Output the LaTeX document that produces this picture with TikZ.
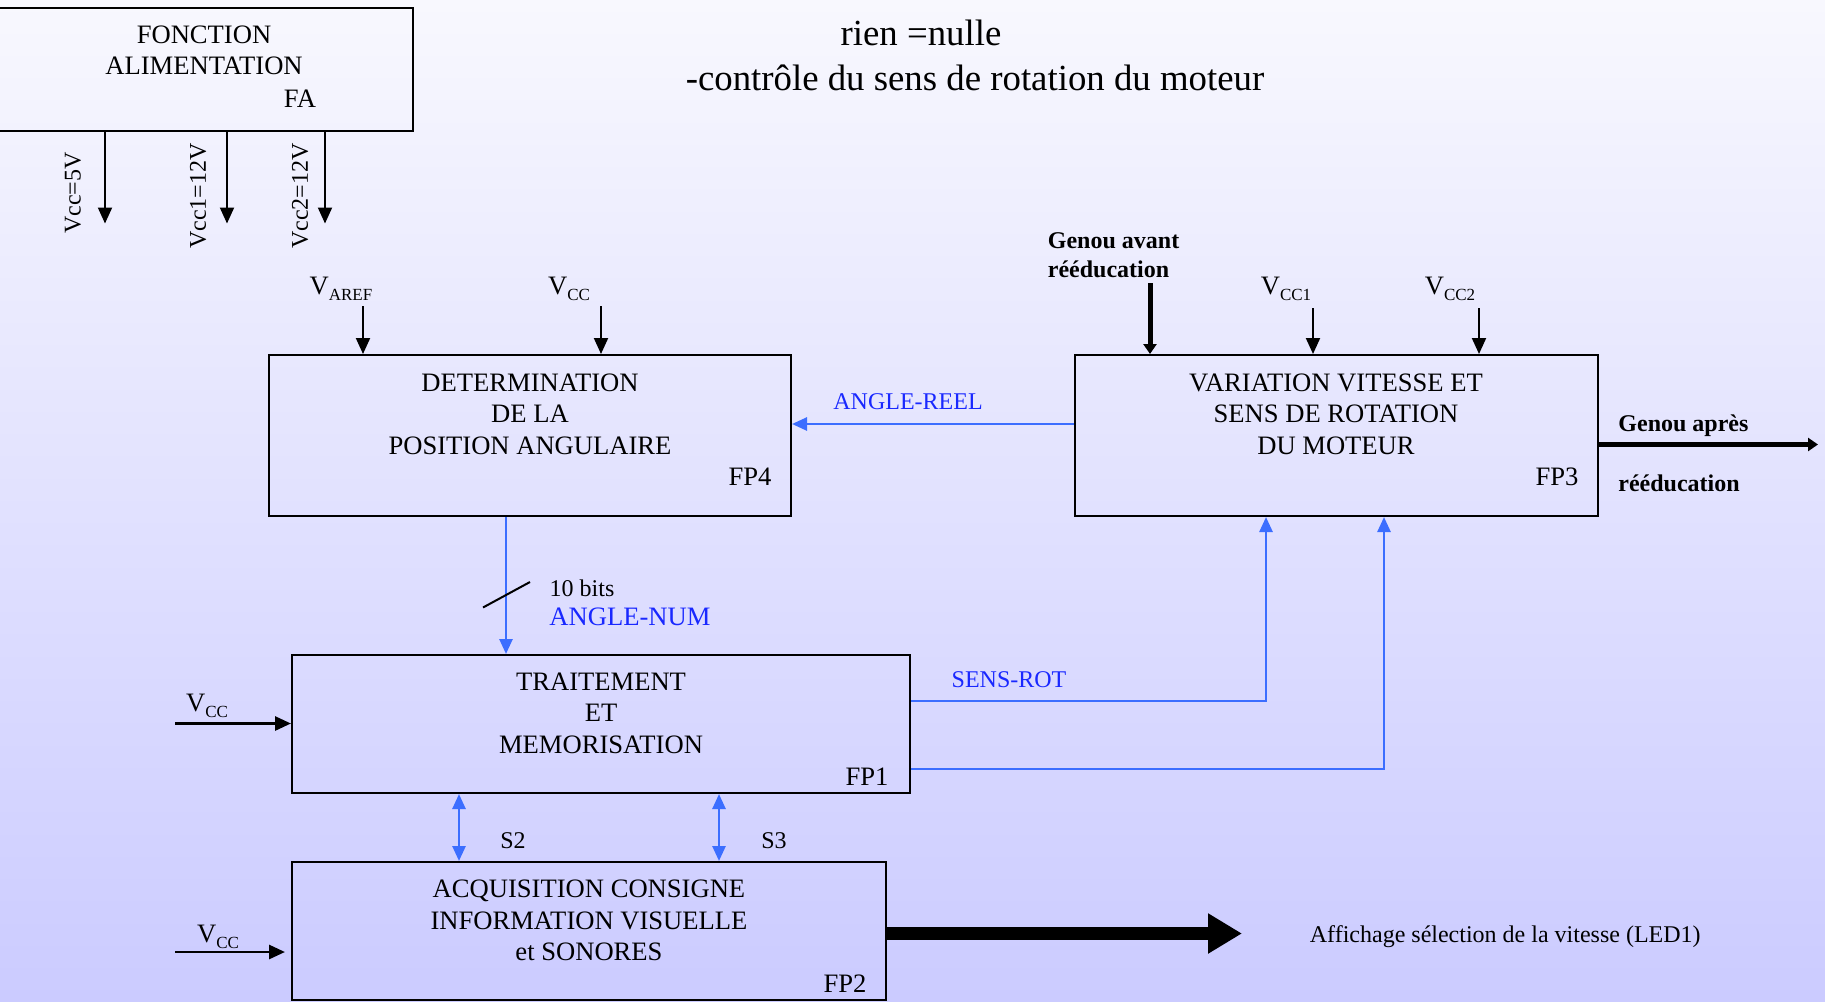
\documentclass[tikz,border=0pt]{standalone}
\usepackage{fontspec}
\setmainfont{Liberation Serif}
\usetikzlibrary{arrows.meta,positioning}
\definecolor{fondhaut}{RGB}{248,248,254}
\definecolor{fondbas}{RGB}{203,203,255}
\definecolor{lienbleu}{RGB}{60,110,255}
\definecolor{textebleu}{RGB}{25,40,255}
\newcommand{\Vind}[1]{V\raisebox{-0.45ex}{\fontsize{8.5}{8.5}\selectfont #1}}
\tikzset{
  bloc/.style={draw, line width=1pt, inner sep=0pt},
  txt/.style={align=center, font=\fontsize{13.3}{15.7}\selectfont, inner sep=0pt},
  petit/.style={font=\fontsize{12}{14.5}\selectfont, inner sep=0pt},
  gras/.style={font=\fontsize{12}{14.5}\selectfont\bfseries, inner sep=0pt, align=left},
  haut/.style={font=\fontsize{18.4}{22.7}\selectfont, inner sep=0pt},
  fleche/.style={-{Triangle[length=8pt,width=7pt]}, line width=1pt},
  lien/.style={-{Triangle[length=7.5pt,width=6.5pt]}, line width=1.3pt, lienbleu},
  lien2/.style={{Triangle[length=7.5pt,width=6.5pt]}-{Triangle[length=7.5pt,width=6.5pt]}, line width=1.3pt, lienbleu},
  epais/.style={-{Triangle[length=5pt,width=6.5pt]}, line width=2.5pt},
  enorme/.style={-{Triangle[length=17pt,width=19pt]}, line width=6.5pt},
  bleu/.style={text=textebleu}
}
\begin{document}
\begin{tikzpicture}[x=0.5pt, y=-0.5pt]
  \useasboundingbox (0,0) rectangle (1825,1001);
  \clip (0,0) rectangle (1825,1001);
  \shade[top color=fondhaut, bottom color=fondbas] (0,0) rectangle (1825,1001);

  \node[haut] (l1) at (921,33) {rien =nulle};
  \node[haut] (l2) at (975,78) {-contrôle du sens de rotation du moteur};

  \node[bloc, minimum width=208.5pt, minimum height=61.5pt] (fa) at (204.5,69.5) {};
  \node[txt] (tfa) at (204,50.5) {FONCTION\\ALIMENTATION};
  \node[txt] (nfa) at (300,99) {FA};
  \coordinate (v5) at (105,223.5);
  \coordinate (v12a) at (227,223.5);
  \coordinate (v12b) at (325,223.5);
  \draw[fleche] (fa.south -| v5) -- (v5);
  \draw[fleche] (fa.south -| v12a) -- (v12a);
  \draw[fleche] (fa.south -| v12b) -- (v12b);
  \node[petit, rotate=90] (lv5) at (73,193) {Vcc=5V};
  \node[petit, rotate=90] (lv12a) at (198,196) {Vcc1=12V};
  \node[petit, rotate=90] (lv12b) at (300,196) {Vcc2=12V};

  \node[bloc, minimum width=261pt, minimum height=80.5pt] (fp4) at (530,435.5) {};
  \node[txt] (t4) at (530,414) {DETERMINATION\\DE LA\\POSITION ANGULAIRE};
  \node[txt] (n4) at (750,477) {FP4};

  \node[bloc, minimum width=261.5pt, minimum height=80.5pt] (fp3) at (1336.5,435.5) {};
  \node[txt] (t3) at (1336,414) {VARIATION VITESSE ET\\SENS DE ROTATION\\DU MOTEUR};
  \node[txt] (n3) at (1557,477) {FP3};

  \node[bloc, minimum width=309pt, minimum height=69pt] (fp1) at (601,724) {};
  \node[txt] (t1) at (601,713) {TRAITEMENT\\ET\\MEMORISATION};
  \node[txt] (n1) at (867,777) {FP1};

  \node[bloc, minimum width=297pt, minimum height=69pt] (fp2) at (589,931) {};
  \node[txt] (t2) at (589,920.5) {ACQUISITION CONSIGNE\\INFORMATION VISUELLE\\et SONORES};
  \node[txt] (n2) at (845,984) {FP2};

  \node[txt] (lvaref) at (341,289) {\Vind{AREF}};
  \node[txt] (lvcc4) at (569,289) {\Vind{CC}};
  \coordinate (avaref) at (363,306);
  \coordinate (avcc4) at (601,306);
  \draw[fleche] (avaref) -- (avaref |- fp4.north);
  \draw[fleche] (avcc4) -- (avcc4 |- fp4.north);

  \node[gras, anchor=west] (genav) at (1047.5,255.5) {Genou avant\\rééducation};
  \node[txt] (lvcc1) at (1286,289) {\Vind{CC1}};
  \node[txt] (lvcc2) at (1450,289) {\Vind{CC2}};
  \coordinate (agenou) at (1150,283);
  \coordinate (avcc1) at (1313,308);
  \coordinate (avcc2) at (1479,308);
  \draw[epais] (agenou) -- (agenou |- fp3.north);
  \draw[fleche] (avcc1) -- (avcc1 |- fp3.north);
  \draw[fleche] (avcc2) -- (avcc2 |- fp3.north);

  \node[gras, anchor=west] (genap1) at (1618,426) {Genou après};
  \node[gras, anchor=west] (genap2) at (1618,483) {rééducation};
  \coordinate (agenou2) at (1818,444.5);
  \draw[epais] (fp3.east |- agenou2) -- (agenou2);

  \coordinate (areel) at (0,424);
  \draw[lien] (fp3.west |- areel) -- (fp4.east |- areel);
  \node[petit, bleu] (lreel) at (908,401.5) {ANGLE-REEL};

  \coordinate (anum) at (506,0);
  \draw[lien] (fp4.south -| anum) -- (fp1.north -| anum);
  \draw[line width=1pt] (483,607.5) -- (530,582);
  \node[petit] (lbits) at (582,588) {10 bits};
  \node[txt, bleu, anchor=west] (lnum) at (549,617) {ANGLE-NUM};

  \coordinate (asens) at (1266,701);
  \coordinate (asens2) at (1384,769);
  \draw[lien] (fp1.east |- asens) -| (fp3.south -| asens);
  \draw[lien] (fp1.east |- asens2) -| (fp3.south -| asens2);
  \node[petit, bleu] (lsens) at (1009,679.5) {SENS-ROT};

  \node[txt] (lvcc1b) at (207,706) {\Vind{CC}};
  \coordinate (ae1) at (175,723.5);
  \draw[fleche, line width=1.4pt] (ae1) -- (fp1.west |- ae1);

  \node[txt] (lvcc2b) at (218,937) {\Vind{CC}};
  \coordinate (ae2) at (175,952);
  \draw[fleche, line width=1.4pt, shorten >=3pt] (ae2) -- (fp2.west |- ae2);

  \coordinate (as2) at (459,0);
  \coordinate (as3) at (719,0);
  \draw[lien2] (fp1.south -| as2) -- (fp2.north -| as2);
  \draw[lien2] (fp1.south -| as3) -- (fp2.north -| as3);
  \node[petit] (ls2) at (513,841) {S2};
  \node[petit] (ls3) at (774,841) {S3};

  \coordinate (aff) at (1242,933.5);
  \draw[enorme] (fp2.east |- aff) -- (aff);
  \node[petit, anchor=west] (laff) at (1309.5,936.5) {Affichage sélection de la vitesse (LED1)};
\end{tikzpicture}
\end{document}
